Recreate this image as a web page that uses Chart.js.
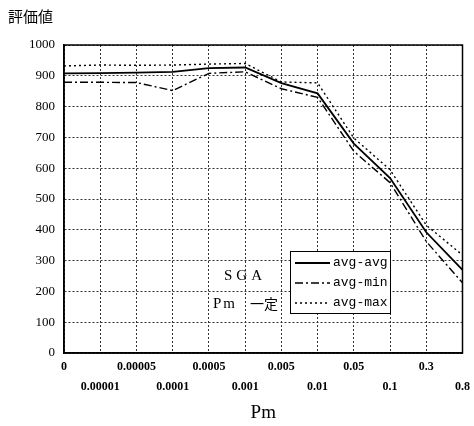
<!DOCTYPE html>
<html>
<head>
<meta charset="utf-8">
<script src="https://cdn.jsdelivr.net/npm/chart.js@4"></script>
<style>
  html, body { margin: 0; padding: 0; background: #fff; }
  #wrap { width: 474px; height: 426px; }
</style>
</head>
<body>
<div id="wrap"><canvas id="chart" width="474" height="426"></canvas></div>
<script>
const categories = ["0", "0.00001", "0.00005", "0.0001", "0.0005", "0.001", "0.005", "0.01", "0.05", "0.1", "0.3", "0.8"];
const avgAvg = [908, 909, 910, 913, 925, 927, 876, 843, 680, 568, 392, 270];
const avgMin = [879, 879, 878, 852, 908, 913, 858, 830, 655, 553, 362, 228];
const avgMax = [932, 935, 934, 935, 938, 940, 880, 877, 698, 595, 415, 318];
const yTicks = [0, 100, 200, 300, 400, 500, 600, 700, 800, 900, 1000];

const serif = "'Liberation Serif', 'DejaVu Serif', serif";
const jp = "'Noto Sans CJK JP', sans-serif";

// labels, frame and in-plot legend
const decor = {
  id: "decor",
  afterDraw(chart) {
    const c = chart.ctx;
    const a = chart.chartArea;
    c.save();
    c.strokeStyle = "#000";
    c.lineWidth = 1.5;
    c.setLineDash([]);
    c.strokeRect(a.left, a.top, a.right - a.left, a.bottom - a.top);

    c.fillStyle = "#000";
    c.textBaseline = "middle";
    c.textAlign = "left";
    c.font = "15px " + jp;
    c.fillText("評価値", 8, 16);

    c.font = "15px " + serif;
    c.letterSpacing = "4px";
    c.fillText("SGA", 224, 276);
    c.letterSpacing = "2px";
    c.fillText("Pm", 213, 304);
    c.letterSpacing = "0px";
    c.font = "14px " + jp;
    c.fillText("一定", 250, 304);

    // legend box
    const bx = 290, by = 251, bw = 100, bh = 62;
    c.fillStyle = "#fff";
    c.fillRect(bx, by, bw, bh);
    c.strokeStyle = "#000";
    c.lineWidth = 1;
    c.strokeRect(bx + 0.5, by + 0.5, bw, bh);
    chart.data.datasets.forEach((ds, i) => {
      const y = by + 12 + i * 20;
      c.beginPath();
      c.setLineDash(ds.borderDash || []);
      c.lineWidth = ds.borderWidth;
      c.moveTo(bx + 5, y);
      c.lineTo(bx + 40, y);
      c.stroke();
      c.setLineDash([]);
      c.fillStyle = "#000";
      c.font = "13px 'Liberation Mono', monospace";
      c.fillText(ds.label, bx + 43, y);
    });
    c.restore();
  }
};

new Chart(document.getElementById("chart"), {
  type: "line",
  data: {
    labels: categories,
    datasets: [
      { label: "avg-avg", data: avgAvg, borderColor: "#000", borderWidth: 1.8, pointRadius: 0, tension: 0 },
      { label: "avg-min", data: avgMin, borderColor: "#000", borderWidth: 1.4, borderDash: [8, 3, 2, 3], pointRadius: 0, tension: 0 },
      { label: "avg-max", data: avgMax, borderColor: "#000", borderWidth: 1.4, borderDash: [2, 3], pointRadius: 0, tension: 0 }
    ]
  },
  options: {
    responsive: false,
    animation: false,
    layout: { padding: { top: 45, left: 0, right: 11, bottom: 0 } },
    plugins: {
      legend: { display: false },
      tooltip: { enabled: false }
    },
    scales: {
      x: {
        offset: false,
        grid: { color: "#333", lineWidth: 1, drawTicks: false },
        border: { display: true, color: "#000", width: 1.5, dash: [2, 2] },
        ticks: {
          autoSkip: false,
          maxRotation: 0,
          padding: 4,
          color: "#000",
          font: { family: serif, size: 12, weight: "bold", lineHeight: 1.65 },
          callback: function (v, i) {
            const t = categories[i];
            return i % 2 === 0 ? [t, ""] : ["", t];
          }
        },
        title: {
          display: true,
          text: "Pm",
          color: "#000",
          font: { family: serif, size: 19 },
          padding: { top: 0, bottom: 2 }
        },
        afterFit: function (s) { s.height = 73; }
      },
      y: {
        min: 0,
        max: 1000,
        grid: { color: "#333", lineWidth: 1, drawTicks: false },
        border: { display: true, color: "#000", width: 1.5, dash: [2, 2] },
        afterBuildTicks: function (s) { s.ticks = yTicks.map(v => ({ value: v })); },
        ticks: {
          padding: 9,
          color: "#000",
          font: { family: serif, size: 13 },
          callback: function (v) { return String(v); }
        },
        afterFit: function (s) { s.width = 64; }
      }
    }
  },
  plugins: [decor]
});
</script>
</body>
</html>
